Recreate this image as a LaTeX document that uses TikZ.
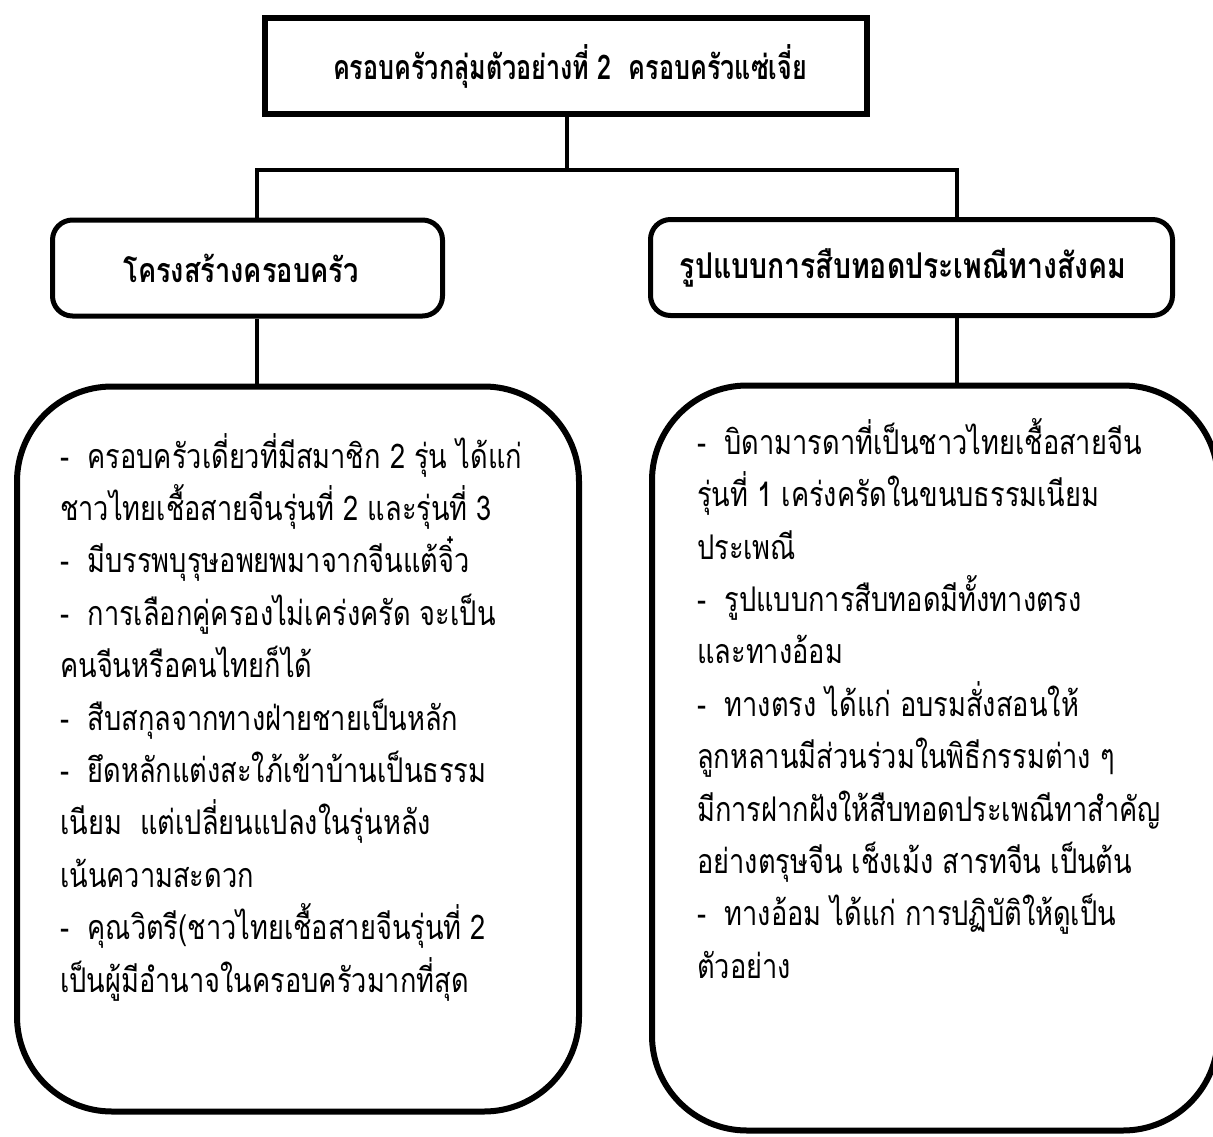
\documentclass[tikz,border=0pt]{standalone}
\usepackage{fontspec}
\newfontfamily\thai[Script=Thai,FakeStretch=0.8]{Loma}
\newfontfamily\thaititle[Script=Thai,FakeStretch=0.74]{Loma}
\begin{document}
\begin{tikzpicture}[x=1pt,y=-1pt,
  topbox/.style={draw,line width=6pt,minimum width=602pt,minimum height=96pt,inner sep=0pt},
  midbox/.style={draw,line width=5pt,rounded corners=20pt,inner sep=0pt},
  bigbox/.style={draw,line width=6pt,rounded corners=95pt,inner sep=0pt},
  conn/.style={line width=4pt},
  titletext/.style={font=\thaititle\bfseries\fontsize{34}{40}\selectfont},
  labeltext/.style={font=\thai\bfseries\fontsize{34}{40}\selectfont},
  bodytext/.style={font=\thai\fontsize{34}{52.4}\selectfont,align=left,anchor=north west,inner sep=0pt}]
\useasboundingbox (0,0) rectangle (1213,1136);
\node[topbox] (top) at (566,66) {};
\node[titletext] (toptxt) at (570,66) {ครอบครัวกลุ่มตัวอย่างที่ 2\ \ ครอบครัวแซ่เจี่ย};
\node[midbox,minimum width=390pt,minimum height=96pt] (lmid) at (247.5,268) {};
\node[labeltext] (lmidtxt) at (241,268) {โครงสร้างครอบครัว};
\node[midbox,minimum width=522pt,minimum height=96pt] (rmid) at (911.5,267.5) {};
\node[labeltext,font=\thai\bfseries\fontsize{35.5}{40}\selectfont] (rmidtxt) at (903,267.5) {รูปแบบการสืบทอดประเพณีทางสังคม};
\node[bigbox,minimum width=562pt,minimum height=725pt] (lbig) at (298,749) {};
\node[bigbox,minimum width=566pt,minimum height=745pt] (rbig) at (935,758) {};
\coordinate (jc) at (567,170);
\coordinate (jl) at (257,170);
\coordinate (jr) at (957,170);
\draw[conn] (top.south -| jc) -- (jc);
\draw[conn] (jl |- lmid.north) -- (jl) -- (jr) -- (jr |- rmid.north);
\draw[conn] (jl |- lmid.south) -- (jl |- lbig.north);
\draw[conn] (jr |- rmid.south) -- (jr |- rbig.north);
\node[bodytext] (ltxt) at (60,433) {-\ \ ครอบครัวเดี่ยวที่มีสมาชิก 2 รุ่น ได้แก่\\
ชาวไทยเชื้อสายจีนรุ่นที่ 2 และรุ่นที่ 3\\
-\ \ มีบรรพบุรุษอพยพมาจากจีนแต้จิ๋ว\\
-\ \ การเลือกคู่ครองไม่เคร่งครัด จะเป็น\\
คนจีนหรือคนไทยก็ได้\\
-\ \ สืบสกุลจากทางฝ่ายชายเป็นหลัก\\
-\ \ ยึดหลักแต่งสะใภ้เข้าบ้านเป็นธรรม\\
เนียม\ \ แต่เปลี่ยนแปลงในรุ่นหลัง\\
เน้นความสะดวก\\
-\ \ คุณวิตรี(ชาวไทยเชื้อสายจีนรุ่นที่ 2\\
เป็นผู้มีอำนาจในครอบครัวมากที่สุด};
\node[bodytext] (rtxt) at (697,418) {-\ \ บิดามารดาที่เป็นชาวไทยเชื้อสายจีน\\
รุ่นที่ 1 เคร่งครัดในขนบธรรมเนียม\\
ประเพณี\\
-\ \ รูปแบบการสืบทอดมีทั้งทางตรง\\
และทางอ้อม\\
-\ \ ทางตรง ได้แก่ อบรมสั่งสอนให้\\
ลูกหลานมีส่วนร่วมในพิธีกรรมต่าง ๆ\\
มีการฝากฝังให้สืบทอดประเพณีทาสำคัญ\\
อย่างตรุษจีน เช็งเม้ง สารทจีน เป็นต้น\\
-\ \ ทางอ้อม ได้แก่ การปฏิบัติให้ดูเป็น\\
ตัวอย่าง};
\end{tikzpicture}
\end{document}
